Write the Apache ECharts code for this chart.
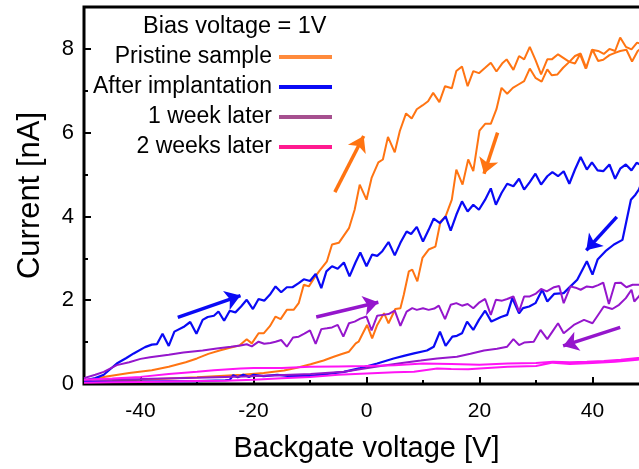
<!DOCTYPE html>
<html>
<head>
<meta charset="utf-8">
<script src="https://cdn.jsdelivr.net/npm/echarts@6/dist/echarts.min.js"></script>
<style>html,body{margin:0;padding:0;background:#fff}#c{width:639px;height:469px}</style>
</head>
<body>
<div id="c"></div>
<script>
// ---------- DATA ----------
const seriesNames = ['Pristine sample', 'After implantation', '1 week later', '2 weeks later'];
const xTickLabels = [-40, -20, 0, 20, 40];
const xMinorTicks = [-30, -10, 10, 30];
const yTickLabels = [0, 2, 4, 6, 8];
const yMinorTicks = [1, 3, 5, 7];

// Pristine sample: forward sweep (up) and backward sweep (down), voltages ascending
const pristineUpV = [-50,-46,-42,-38,-35,-32,-30,-28,-26,-24,-22.5,-21.2,-20.3,-19.1,-18.2,-17.1,-16.1,-15.2,-14.1,-12.9,-12,-11.1,-10.2,-9.3,-8.4,-7,-6.1,-4.9,-3.1,-2.1,-1.2,0,0.9,2.1,2.9,3.8,5,5.9,7,8,8.9,9.9,10.9,11.8,12.9,13.9,15.1,15.9,16.9,17.9,18.9,19.9,21,22,23,24,24.8,26,27,27.9,28.9,29.9,30.9,32,32.8,33.9,34.9,35.9,36.9,37.9,38.9,39.9,41,42,43,44,44.9,45.9,46.9,47.9,49,50];
const pristineUpI = [0.08,0.18,0.26,0.33,0.41,0.52,0.61,0.72,0.80,0.87,0.92,1.07,0.97,1.21,1.21,1.38,1.61,1.55,1.77,1.77,1.93,2.37,2.33,2.52,2.69,2.93,3.33,3.37,3.72,4.16,4.76,4.40,4.92,5.29,5.36,5.90,5.53,6.04,6.46,6.34,6.56,6.65,6.75,6.95,6.73,7.11,7.06,7.47,7.58,7.11,7.47,7.42,7.55,7.67,7.46,7.65,7.75,7.50,7.83,7.75,8.05,7.74,7.39,7.75,7.75,7.87,7.78,7.69,7.83,7.89,7.54,7.98,7.95,7.88,8.00,7.95,8.27,8.05,7.99,8.15,8.10,8.12];
const pristineDownV = [-50,-45,-40,-35,-30,-26,-22,-18.2,-14.6,-12.3,-9.9,-7.6,-5.8,-4.5,-3.1,-1.9,-1.4,-0.8,0.1,1,1.9,3.1,3.9,5.1,6,6.6,7.5,8.1,9,9.9,11,12.2,13.1,14,15.1,15.9,17,18,18.9,20,21,22,23,23.9,24.9,25.9,26.9,27.9,28.9,29.9,31,32,32.8,33.8,34.8,35.9,36.9,37.8,38.8,40,41,41.9,43,44.1,44.9,46,47,48,49,50];
const pristineDownI = [0.05,0.07,0.10,0.13,0.16,0.19,0.22,0.26,0.32,0.39,0.47,0.56,0.65,0.71,0.77,0.97,1.01,1.17,1.41,1.09,1.41,1.69,1.45,1.79,1.81,2.13,2.69,2.73,2.45,3.01,3.21,3.28,3.88,4.00,4.40,5.12,4.76,5.36,5.08,6.05,6.21,6.21,6.56,7.07,6.93,7.07,7.15,7.23,7.53,7.31,7.22,7.51,7.37,7.39,7.55,7.69,7.65,7.87,7.53,7.98,7.71,7.74,7.85,7.91,7.95,7.98,7.70,7.95,8.05,8.12];

// After implantation
const implantUpV = [-50,-48,-46.5,-44.2,-42.5,-41.2,-39.2,-38,-37.1,-36.1,-35,-34,-32.4,-31.2,-30.1,-29,-28.1,-27,-26.2,-25.2,-24.2,-23.2,-22.2,-21.2,-20.1,-19.1,-18.1,-17,-16.1,-15.1,-14.1,-13.1,-12,-11.1,-10,-9,-8,-7.1,-6.1,-5.1,-4,-3,-1.95,-1.1,0,1,1.9,2.8,3.9,5,6,7.1,7.9,8.9,10,11,11.9,13,14,14.9,15.9,16.9,17.9,18.9,19.9,21,22,22.9,23.9,24.9,26,27,27.9,28.9,29.9,30.9,32,32.9,33.9,34.9,35.9,36.9,37.9,39,39.9,40.9,41.9,43,44,44.9,45.9,46.9,47.8,49,50];
const implantUpI = [0.08,0.14,0.22,0.49,0.62,0.73,0.88,0.94,0.95,1.20,0.91,1.25,1.36,1.48,1.20,1.53,1.60,1.63,1.73,1.51,1.75,1.71,1.85,2.01,1.79,2.03,1.99,2.15,2.33,2.19,2.31,2.31,2.41,2.50,2.46,2.63,2.29,2.69,2.81,2.75,2.90,2.57,2.90,3.14,2.81,3.09,3.06,3.17,3.39,3.07,3.37,3.64,3.58,3.75,3.40,3.68,3.95,3.84,4.00,3.66,4.04,4.36,4.12,4.28,4.16,4.40,4.67,4.28,4.56,4.78,4.72,4.90,4.64,4.82,5.02,4.76,4.96,5.06,4.96,5.08,4.78,5.12,5.42,5.12,5.29,5.10,5.08,5.24,4.90,5.14,5.24,5.10,5.28,5.20,5.25];
const implantDownV = [-50,-40,-30,-25,-24.2,-23.6,-22.8,-21.8,-20.8,-20,-18.2,-15.8,-13.5,-10.5,-7.6,-4,-1.1,1.9,4.8,6.6,8.4,10.7,11.9,13,14,15.2,16,16.9,17.8,18.9,19.9,21,22.1,23.8,24.9,25.8,27,27.7,28.8,29.9,31.1,32,33.2,34.9,36.1,37.3,39,40,40.9,42.3,43.8,45.3,46.8,47.6,48.2,50];
const implantDownI = [0.06,0.06,0.07,0.09,0.10,0.21,0.16,0.22,0.17,0.22,0.19,0.22,0.19,0.19,0.23,0.29,0.38,0.49,0.61,0.67,0.73,0.80,0.89,1.25,0.91,1.13,1.15,1.21,1.49,1.29,1.53,1.75,1.49,1.60,1.65,2.05,1.69,1.81,1.85,1.93,2.25,1.97,2.15,2.17,2.33,2.49,2.93,2.61,2.97,3.17,3.33,3.44,4.40,4.52,4.64,5.25];

// 1 week later
const week1UpV = [-50,-48,-46.5,-44.2,-42,-40,-38.3,-35,-32.4,-29,-26.5,-24,-22.3,-21.2,-20.3,-19.1,-18.1,-17,-16.1,-15.1,-14.1,-13,-12,-11,-10,-9,-8,-7,-6.1,-5.1,-4.1,-3.1,-2.1,-1.1,0,0.9,1.9,2.9,3.9,5,6,7.1,8.1,8.9,10,11,12,12.8,13.9,14.9,15.9,16.9,17.9,18.9,20,21,22,22.9,24,24.9,26,27,27.9,28.9,29.9,30.9,31.9,33.2,34.1,34.9,36.1,37,37.9,39,40,41,41.9,42.9,44,45,46,47.1,48.2,50];
const week1UpI = [0.14,0.22,0.29,0.45,0.52,0.60,0.64,0.70,0.75,0.80,0.85,0.89,0.92,0.95,0.90,1.01,0.96,0.98,1.01,1.05,0.89,1.11,1.13,1.20,1.28,0.96,1.31,1.33,1.35,1.41,1.13,1.45,1.49,1.56,1.61,1.28,1.63,1.65,1.67,1.75,1.39,1.73,1.81,1.77,1.81,1.77,1.80,1.87,1.55,1.89,1.93,1.87,1.91,1.81,1.95,2.03,1.65,2.01,1.99,2.03,2.09,1.73,2.09,2.09,2.15,2.27,2.21,2.31,2.34,1.93,2.33,2.30,2.25,2.33,2.31,2.36,2.42,1.91,2.41,2.42,2.31,2.37,2.37,2.40];
const week1DownV = [-50,-40,-30,-21.7,-15.8,-9.9,-4,1.9,6.6,9.6,12.5,16,18.4,20.8,23.1,24.9,26,27,27.9,29.6,30.8,32,32.9,33.9,34.9,36.7,38.5,40,41.2,42,43.5,44.7,45.9,46.9,47.4,48.2,50];
const week1DownI = [0.10,0.12,0.15,0.18,0.21,0.24,0.29,0.42,0.51,0.56,0.61,0.65,0.72,0.80,0.84,0.89,1.07,0.93,0.99,1.01,1.29,1.07,1.25,1.45,1.21,1.41,1.53,1.45,1.69,1.85,1.79,1.89,2.05,2.25,1.97,2.09,2.40];

// 2 weeks later
const week2UpV = [-50,-45,-40,-35,-30,-27,-22.3,-20,-15,-10,-5,0,5,10,15,20,25,30,33,36,39,42,45,48,50];
const week2UpI = [0.10,0.13,0.17,0.24,0.29,0.33,0.37,0.38,0.38,0.41,0.42,0.43,0.45,0.49,0.48,0.46,0.49,0.50,0.53,0.52,0.53,0.55,0.58,0.62,0.64];
const week2DownV = [-50,-45,-40,-35,-30,-25,-20,-15,-10,-5,0,5,8.4,12.5,15,18,20,25,30,33,36,40,44,48,50];
const week2DownI = [0.03,0.04,0.05,0.06,0.07,0.08,0.10,0.14,0.17,0.22,0.25,0.28,0.29,0.37,0.36,0.35,0.37,0.41,0.43,0.51,0.48,0.50,0.53,0.58,0.60];

// Sweep-direction arrows (data coordinates: [V, nA] start -> end)
const arrowsPristine = [[[-5.6, 4.58], [-0.5, 5.92]], [[23.2, 6.0], [20.8, 5.02]]];
const arrowsImplant = [[[-33.4, 1.59], [-22.3, 2.11]], [[44.3, 3.99], [38.9, 3.19]]];
const arrowsWeek1 = [[[-8.9, 1.60], [2.1, 1.95]], [[44.9, 1.35], [34.8, 0.91]]];
const arrowsWeek2 = [];

// ---------- BUILD ----------
function loop(upV, upI, downV, downI) {
  const d = [];
  for (let i = 0; i < upV.length; i++) d.push([upV[i], upI[i]]);
  for (let i = downV.length - 1; i >= 0; i--) d.push([downV[i], downI[i]]);
  return d;
}
const lineColors = ['#ff7412', '#0a0af5', '#9516cc', '#ff14f5'];
const legendColors = ['#ff8a3c', '#0a0af5', '#a6508f', '#ff1a90'];
const loops = [
  loop(pristineUpV, pristineUpI, pristineDownV, pristineDownI),
  loop(implantUpV, implantUpI, implantDownV, implantDownI),
  loop(week1UpV, week1UpI, week1DownV, week1DownI),
  loop(week2UpV, week2UpI, week2DownV, week2DownI)
];
const arrows = [arrowsPristine, arrowsImplant, arrowsWeek1, arrowsWeek2];
const FONT = '"Liberation Sans", Arial, sans-serif';

const series = seriesNames.map((name, k) => ({
  name: name,
  type: 'line',
  data: loops[k],
  showSymbol: false,
  symbol: 'none',
  clip: true,
  lineStyle: { color: lineColors[k], width: k === 1 ? 2.2 : 2 },
  itemStyle: { color: lineColors[k] },
  markLine: {
    silent: true,
    symbol: ['none', 'arrow'],
    symbolSize: 15,
    label: { show: false },
    lineStyle: { color: lineColors[k], width: 3.5, type: 'solid' },
    emphasis: { disabled: true },
    data: arrows[k].map(a => [{ coord: a[0] }, { coord: a[1] }])
  }
}));

const chart = echarts.init(document.getElementById('c'), null, { renderer: 'canvas' });
chart.setOption({
  animation: false,
  backgroundColor: '#ffffff',
  title: {
    text: 'Bias voltage = 1V',
    left: 143, top: 15, padding: 0,
    textStyle: { fontFamily: FONT, fontSize: 23.5, fontWeight: 'normal', color: '#000' }
  },
  legend: {
    orient: 'vertical',
    align: 'right',
    right: 307,
    top: 42,
    padding: 0,
    itemGap: 0,
    itemWidth: 53,
    itemHeight: 4,
    icon: 'rect',
    selectedMode: false,
    textStyle: { fontFamily: FONT, fontSize: 23, color: '#000', lineHeight: 30, padding: [0, 2, 0, 0] },
    data: seriesNames.map((n, k) => ({ name: n, itemStyle: { color: legendColors[k] } }))
  },
  grid: {
    left: 84, top: 7, right: -10, bottom: 85,
    show: true, borderColor: '#000', borderWidth: 3,
    containLabel: false, outerBoundsMode: 'none'
  },
  xAxis: [{
    type: 'value', min: -50, max: 50,
    name: 'Backgate voltage [V]', nameLocation: 'middle', nameGap: 50,
    nameTextStyle: { fontFamily: FONT, fontSize: 29, color: '#000' },
    axisLine: { show: false, onZero: false },
    splitLine: { show: false },
    axisTick: { show: true, inside: true, length: 7, lineStyle: { color: '#000', width: 2 }, customValues: xTickLabels },
    axisLabel: { fontFamily: FONT, fontSize: 21, color: '#000', margin: 17, customValues: xTickLabels }
  }, {
    type: 'value', min: -50, max: 50, position: 'bottom',
    axisLine: { show: false, onZero: false }, splitLine: { show: false },
    axisTick: { show: true, inside: true, length: 4, lineStyle: { color: '#000', width: 2 }, customValues: xMinorTicks },
    axisLabel: { show: false }
  }],
  yAxis: [{
    type: 'value', min: 0, max: 9,
    name: 'Current [nA]', nameLocation: 'middle', nameGap: 38,
    nameTextStyle: { fontFamily: FONT, fontSize: 31, color: '#000' },
    axisLine: { show: false, onZero: false },
    splitLine: { show: false },
    axisTick: { show: true, inside: true, length: 7, lineStyle: { color: '#000', width: 2 }, customValues: yTickLabels },
    axisLabel: { fontFamily: FONT, fontSize: 22, color: '#000', margin: 10, customValues: yTickLabels }
  }, {
    type: 'value', min: 0, max: 9, position: 'left',
    axisLine: { show: false, onZero: false }, splitLine: { show: false },
    axisTick: { show: true, inside: true, length: 4, lineStyle: { color: '#000', width: 2 }, customValues: yMinorTicks },
    axisLabel: { show: false }
  }],
  series: series
});
</script>
</body>
</html>
